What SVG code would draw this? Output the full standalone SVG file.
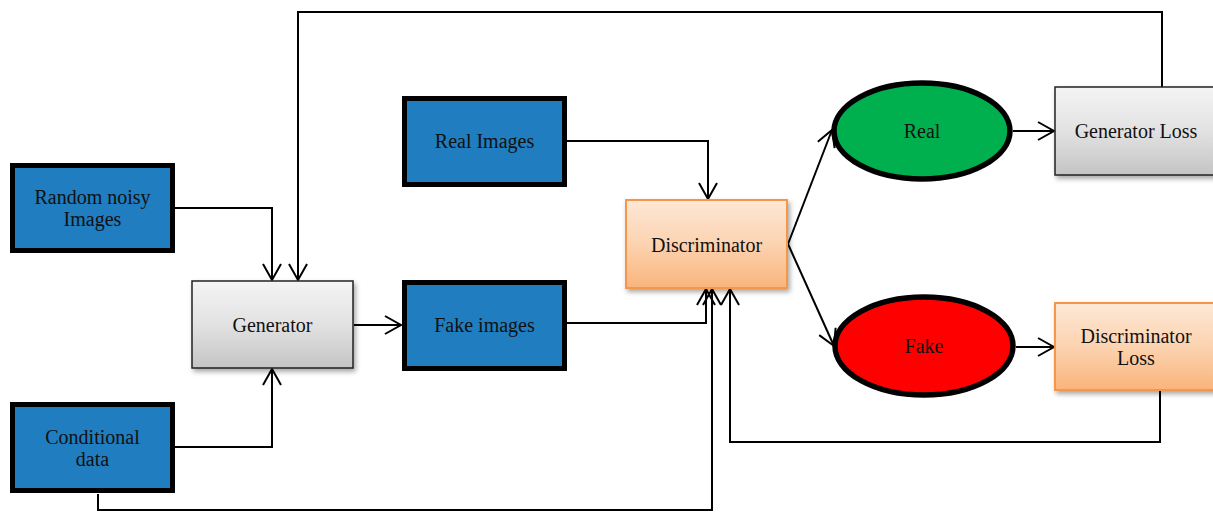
<svg xmlns="http://www.w3.org/2000/svg" width="1213" height="512" viewBox="0 0 1213 512">
<style>
.t{font-family:"Liberation Serif","Times New Roman",serif;font-size:20px;fill:#111;text-anchor:middle}
.blue{fill:#1f7dc0;stroke:#000;stroke-width:5}
.gray{fill:url(#gGray);stroke:#222;stroke-width:1.5;filter:url(#sh)}
.org{fill:url(#gOrg);stroke:#f79646;stroke-width:2;filter:url(#sh)}
.ell{stroke:#000;stroke-width:5.5}
.c{fill:none;stroke:#000;stroke-width:2}
</style>
<defs>
<linearGradient id="gGray" x1="0" y1="0" x2="0" y2="1"><stop offset="0" stop-color="#f4f4f4"/><stop offset="0.5" stop-color="#e2e2e2"/><stop offset="1" stop-color="#c4c4c4"/></linearGradient>
<linearGradient id="gOrg" x1="0" y1="0" x2="0" y2="1"><stop offset="0" stop-color="#fde8d6"/><stop offset="0.5" stop-color="#fcd3b0"/><stop offset="1" stop-color="#f9b47c"/></linearGradient>
<filter id="sh" x="-10%" y="-10%" width="130%" height="140%"><feDropShadow dx="2" dy="3" stdDeviation="2.5" flood-color="#000" flood-opacity="0.35"/></filter>
<marker id="a" markerUnits="userSpaceOnUse" markerWidth="22" markerHeight="22" refX="17" refY="10" orient="auto"><path d="M1,1 L17,10 L1,19" fill="none" stroke="#000" stroke-width="2"/></marker>
</defs>
<g id="connectors">
<path class="c" d="M175,208 H272 V280" marker-end="url(#a)"/>
<path class="c" d="M1162,87 V12 H298 V280" marker-end="url(#a)"/>
<path class="c" d="M175,447 H272 V369" marker-end="url(#a)"/>
<path class="c" d="M98,494 V510 H712 V289" marker-end="url(#a)"/>
<path class="c" d="M354,325 H401" marker-end="url(#a)"/>
<path class="c" d="M567,323 H706 V289" marker-end="url(#a)"/>
<path class="c" d="M567,141 H708 V199" marker-end="url(#a)"/>
<path class="c" d="M788,244 L832,130" marker-end="url(#a)"/>
<path class="c" d="M788,244 L834,346" marker-end="url(#a)"/>
<path class="c" d="M1013,131 H1054" marker-end="url(#a)"/>
<path class="c" d="M1016,347 H1054" marker-end="url(#a)"/>
<path class="c" d="M1160,390 V442 H730 V289" marker-end="url(#a)"/>
</g>
<g id="random-noisy"><rect class="blue" x="12.5" y="165.5" width="160" height="85"/><text class="t" x="92.5" y="204">Random noisy</text><text class="t" x="92.5" y="226">Images</text></g>
<g id="conditional-data"><rect class="blue" x="12.5" y="404.5" width="160" height="86"/><text class="t" x="92.5" y="444">Conditional</text><text class="t" x="92.5" y="466">data</text></g>
<g id="generator"><rect class="gray" x="192" y="281" width="161" height="87"/><text class="t" x="272.5" y="332">Generator</text></g>
<g id="real-images"><rect class="blue" x="404.5" y="98.5" width="160" height="86"/><text class="t" x="484.5" y="148">Real Images</text></g>
<g id="fake-images"><rect class="blue" x="404.5" y="282.5" width="160" height="86"/><text class="t" x="484.5" y="332">Fake images</text></g>
<g id="discriminator"><rect class="org" x="626" y="200" width="161" height="88"/><text class="t" x="706.5" y="252">Discriminator</text></g>
<g id="real"><ellipse class="ell" cx="922" cy="131" rx="88" ry="48" fill="#00b04f"/><text class="t" x="922" y="138">Real</text></g>
<g id="fake"><ellipse class="ell" cx="924" cy="346" rx="89" ry="49" fill="#ff0000"/><text class="t" x="924" y="353">Fake</text></g>
<g id="generator-loss"><rect class="gray" x="1055" y="87" width="170" height="88"/><text class="t" x="1136" y="138">Generator Loss</text></g>
<g id="discriminator-loss"><rect class="org" x="1055" y="303" width="170" height="87"/><text class="t" x="1136" y="343">Discriminator</text><text class="t" x="1136" y="365">Loss</text></g>
</svg>
